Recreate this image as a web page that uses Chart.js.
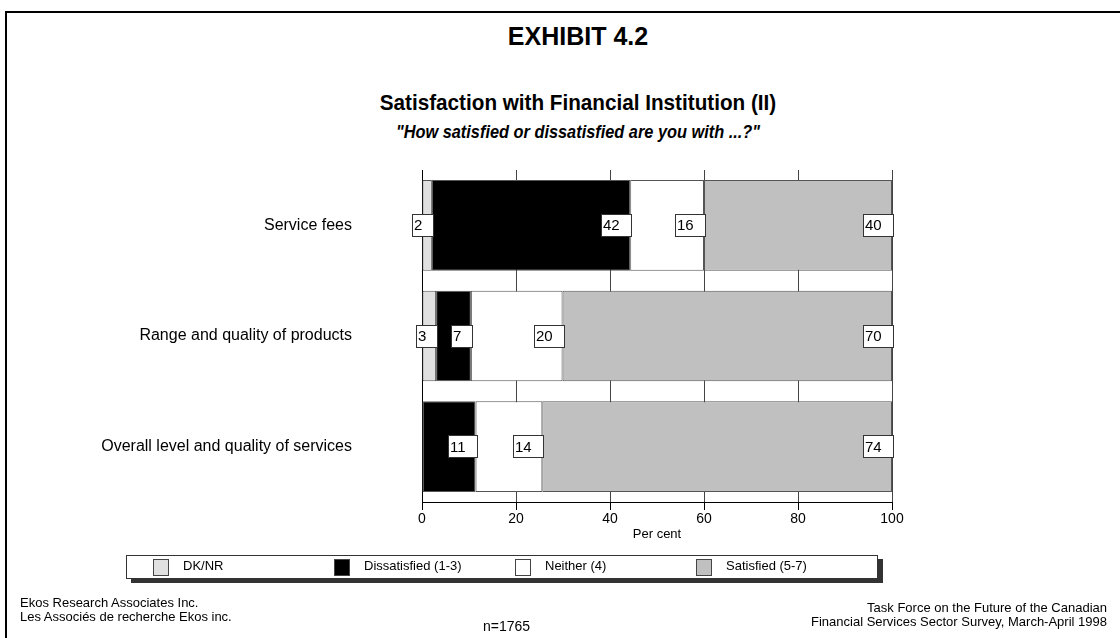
<!DOCTYPE html>
<html>
<head>
<meta charset="utf-8">
<script src="https://cdn.jsdelivr.net/npm/chart.js@4.4.0/dist/chart.umd.min.js"></script>
<style>
body { margin: 0; width: 1120px; height: 638px; overflow: hidden; background: #fff; position: relative;
       font-family: "Liberation Sans", Arial, sans-serif; color: #000; }
#frame { position: absolute; left: 5px; top: 11px; width: 1200px; height: 700px; border: 2px solid #000; }
#chart { position: absolute; left: 0; top: 0; }
.t { position: absolute; left: 0; width: 1156px; text-align: center; font-weight: bold; white-space: nowrap; }
#exhibit { top: 22px; font-size: 25px; }
#title { top: 90px; font-size: 22px; transform: scaleX(0.94); }
#subtitle { top: 121px; font-size: 19px; font-style: italic; transform: scaleX(0.86); }
#legend { position: absolute; left: 126px; top: 555px; width: 750px; height: 22px; border: 1px solid #333;
          box-shadow: 5px 4px 0 #333; background: #fff; }
.sw { position: absolute; top: 3px; width: 14px; height: 15px; border: 1px solid #444; }
.lt { position: absolute; top: 2px; font-size: 13px; white-space: nowrap; }
.foot { position: absolute; font-size: 13px; line-height: 14px; white-space: nowrap; }
</style>
</head>
<body>
<div id="frame"></div>
<div class="t" id="exhibit">EXHIBIT 4.2</div>
<div class="t" id="title">Satisfaction with Financial Institution (II)</div>
<div class="t" id="subtitle">"How satisfied or dissatisfied are you with ...?"</div>
<canvas id="chart" width="1120" height="638"></canvas>
<div id="legend"></div>
<div class="foot" style="left:20px; top:596px;">Ekos Research Associates Inc.<br>Les Associés de recherche Ekos inc.</div>
<div class="foot" style="left:483px; top:619px; font-size:14px;">n=1765</div>
<div class="foot" style="right:13px; top:601px; text-align:right;">Task Force on the Future of the Canadian<br>Financial Services Sector Survey, March-April 1998</div>

<script>
// ---------- data ----------
const categorias = ["Service fees", "Range and quality of products", "Overall level and quality of services"];
const seriesNomes = ["DK/NR", "Dissatisfied (1-3)", "Neither (4)", "Satisfied (5-7)"];
const dkNr = [2.1, 3.0, null];
const insatisfeito = [42.2, 7.4, 11.4];
const nenhum = [15.7, 19.5, 14.2];
const satisfeito = [40.0, 70.1, 74.4];
const ticksX = [0, 20, 40, 60, 80, 100];

const cores = ["#e0e0e0", "#000000", "#ffffff", "#c0c0c0"];
const FONTE = '"Liberation Sans", Arial, sans-serif';

// ---------- caixas de valores ----------
const caixasValores = {
    id: "caixasValores",
    afterDatasetsDraw(chart) {
        const ctx = chart.ctx;
        ctx.save();
        ctx.font = "15px " + FONTE;
        ctx.textBaseline = "middle";
        chart.data.datasets.forEach((ds, i) => {
            const meta = chart.getDatasetMeta(i);
            meta.data.forEach((bar, j) => {
                const v = ds.data[j];
                if (!v) return;
                const txt = String(Math.round(v));
                const w = Math.round(ctx.measureText(txt).width) + 14;
                const h = 23;
                const dir = Math.round(bar.x) + 2;
                const topo = Math.round(bar.y - h / 2);
                ctx.fillStyle = "#fff";
                ctx.fillRect(dir - w, topo, w, h);
                ctx.strokeStyle = "#333";
                ctx.lineWidth = 1;
                ctx.strokeRect(dir - w + 0.5, topo + 0.5, w - 1, h - 1);
                ctx.fillStyle = "#000";
                ctx.fillText(txt, dir - w + 2, bar.y + 1);
            });
        });
        ctx.restore();
    }
};

const valores = [dkNr, insatisfeito, nenhum, satisfeito];

new Chart(document.getElementById("chart"), {
    type: "bar",
    data: {
        labels: categorias,
        datasets: seriesNomes.map((nome, i) => ({
            label: nome,
            data: valores[i],
            backgroundColor: cores[i],
            borderColor: "#555",
            borderWidth: 1,
            borderSkipped: false,
            barPercentage: 0.82,
            categoryPercentage: 1
        }))
    },
    options: {
        indexAxis: "y",
        responsive: false,
        animation: false,
        layout: { padding: { left: 0, right: 228, top: 170, bottom: 96 } },
        plugins: { legend: { display: false }, tooltip: { enabled: false } },
        scales: {
            x: {
                stacked: true,
                min: 0,
                max: 100,
                afterBuildTicks: s => { s.ticks = ticksX.map(v => ({ value: v })); },
                afterFit: s => { s.height = 40; },
                grid: { color: "#444", lineWidth: 1, tickLength: 8, tickColor: "#000" },
                border: { display: true, color: "#000", width: 1 },
                ticks: { color: "#000", font: { family: FONTE, size: 14 }, padding: 1, maxRotation: 0 },
                title: { display: true, text: "Per cent", color: "#000", font: { family: FONTE, size: 13 }, padding: { top: 0, bottom: 0 } }
            },
            y: {
                stacked: true,
                afterFit: s => { s.width = 422; },
                grid: { display: false },
                border: { display: true, color: "#000", width: 1 },
                ticks: { color: "#000", font: { family: FONTE, size: 16 }, padding: 62 }
            }
        }
    },
    plugins: [caixasValores]
});

// ---------- legenda ----------
const legenda = document.getElementById("legend");
seriesNomes.forEach((nome, i) => {
    const x = 26 + i * 181;
    const sw = document.createElement("div");
    sw.className = "sw";
    sw.style.left = x + "px";
    sw.style.background = cores[i];
    legenda.appendChild(sw);
    const lt = document.createElement("div");
    lt.className = "lt";
    lt.style.left = (x + 30) + "px";
    lt.textContent = nome;
    legenda.appendChild(lt);
});
</script>
</body>
</html>
